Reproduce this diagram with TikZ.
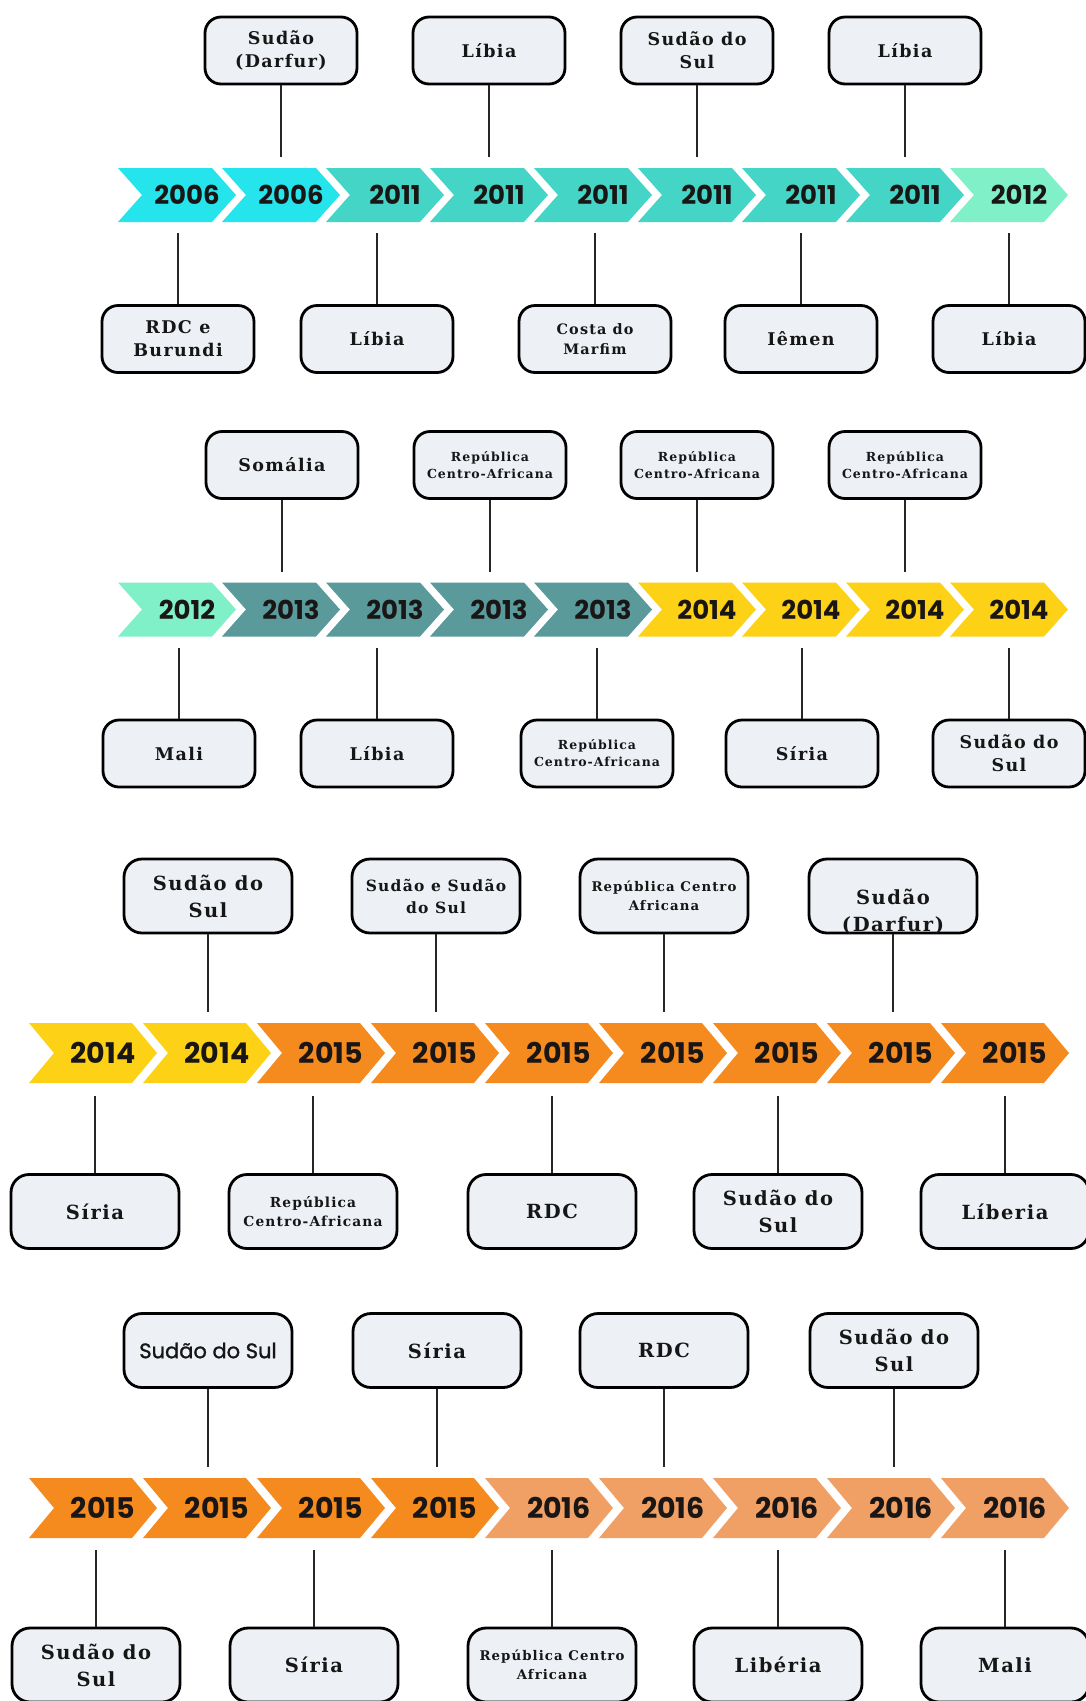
\documentclass[tikz,border=0pt]{standalone}
\usepackage{fontspec}
\newfontfamily\yearfont{Poppins}
\newfontfamily\boxfont{DejaVu Serif}[LetterSpace=8]
\newfontfamily\sansbox{Poppins}[FakeBold=1.3]
\definecolor{cyanA}{HTML}{25E4EC}
\definecolor{turq}{HTML}{45D5C6}
\definecolor{mint}{HTML}{80F0C8}
\definecolor{tealg}{HTML}{5A9A9B}
\definecolor{yell}{HTML}{FCD116}
\definecolor{orng}{HTML}{F58B1F}
\definecolor{lorng}{HTML}{F0A064}
\definecolor{boxfill}{HTML}{EDF0F5}
\definecolor{txt}{HTML}{161616}
\definecolor{yrtxt}{HTML}{1A1616}
\definecolor{linec}{HTML}{262626}
\tikzset{
  box/.style={draw=black, line width=2.8pt, rounded corners=16pt, fill=boxfill,
    minimum width=152pt, minimum height=67pt, align=center, text=txt, inner sep=2pt,
    font=\boxfont\bfseries\fontsize{17.5}{23}\selectfont},
  smalltxt/.style={font=\boxfont\bfseries\fontsize{12.5}{17}\selectfont},
  bigbox/.style={box, minimum width=168pt, minimum height=74pt, rounded corners=18pt,
    font=\boxfont\bfseries\fontsize{19.5}{27}\selectfont},
  yr/.style={font=\yearfont\bfseries\fontsize{26}{26}\selectfont, text=yrtxt, inner sep=0pt},
  yrbig/.style={yr, font=\yearfont\bfseries\fontsize{28.5}{28.5}\selectfont},
  conn/.style={draw=linec, line width=2pt},
}
% left x, center y, width (left to tip), half height, depth, colour
\newcommand{\chevshape}[6]{%
  \fill[#6] (#1,#2-#4) -- (#1+#3-#5,#2-#4) -- (#1+#3,#2) -- (#1+#3-#5,#2+#4)
    -- (#1,#2+#4) -- (#1+#5,#2) -- cycle;}
\begin{document}
\begin{tikzpicture}[x=1pt,y=-1pt]
\useasboundingbox (0,0) rectangle (1086,1701);
\fill[white] (0,0) rectangle (1086,1701);

% ---------------- Row 1 ----------------
\foreach \i/\yv/\col in {0/2006/cyanA,1/2006/cyanA,2/2011/turq,3/2011/turq,4/2011/turq,5/2011/turq,6/2011/turq,7/2011/turq,8/2012/mint}{
  \chevshape{118+104*\i}{195}{118}{27}{24}{\col}
  \node[yr] (ya\i) at (187+104*\i,195) {\yv};
}
\node[box] (t11) at (281,50.5) {Sudão\\(Darfur)};
\node[box] (t12) at (489,50.5) {Líbia};
\node[box] (t13) at (697,50.5) {Sudão do\\Sul};
\node[box] (t14) at (905,50.5) {Líbia};
\node[box] (b11) at (178,339) {RDC e\\Burundi};
\node[box] (b12) at (377,339) {Líbia};
\node[box, font=\boxfont\bfseries\fontsize{14.4}{20}\selectfont] (b13) at (595,339) {Costa do\\Marfim};
\node[box] (b14) at (801,339) {Iêmen};
\node[box] (b15) at (1009,339) {Líbia};
\foreach \n/\x in {t11/281,t12/489,t13/697,t14/905}{
  \coordinate (e\n) at (\x,157); \draw[conn] (\n.south) -- (e\n);}
\foreach \n/\x in {b11/178,b12/377,b13/595,b14/801,b15/1009}{
  \coordinate (e\n) at (\x,233); \draw[conn] (e\n) -- (\n.north);}

% ---------------- Row 2 ----------------
\foreach \i/\yv/\col in {0/2012/mint,1/2013/tealg,2/2013/tealg,3/2013/tealg,4/2013/tealg,5/2014/yell,6/2014/yell,7/2014/yell,8/2014/yell}{
  \chevshape{118+104*\i}{609.5}{118}{27}{24}{\col}
  \node[yr] (yb\i) at (187+104*\i,609.5) {\yv};
}
\node[box] (t21) at (282,465) {Somália};
\node[box, smalltxt] (t22) at (490,465) {República\\Centro-Africana};
\node[box, smalltxt] (t23) at (697,465) {República\\Centro-Africana};
\node[box, smalltxt] (t24) at (905,465) {República\\Centro-Africana};
\node[box] (b21) at (179,753.5) {Mali};
\node[box] (b22) at (377,753.5) {Líbia};
\node[box, smalltxt] (b23) at (597,753.5) {República\\Centro-Africana};
\node[box] (b24) at (802,753.5) {Síria};
\node[box] (b25) at (1009,753.5) {Sudão do\\Sul};
\foreach \n/\x in {t21/282,t22/490,t23/697,t24/905}{
  \coordinate (e\n) at (\x,571.5); \draw[conn] (\n.south) -- (e\n);}
\foreach \n/\x in {b21/179,b22/377,b23/597,b24/802,b25/1009}{
  \coordinate (e\n) at (\x,647.5); \draw[conn] (e\n) -- (\n.north);}

% ---------------- Row 3 ----------------
\foreach \i/\yv/\col in {0/2014/yell,1/2014/yell,2/2015/orng,3/2015/orng,4/2015/orng,5/2015/orng,6/2015/orng,7/2015/orng,8/2015/orng}{
  \chevshape{29+114*\i}{1053}{128}{30}{25}{\col}
  \node[yrbig] (yc\i) at (103+114*\i,1053) {\yv};
}
\node[bigbox] (t31) at (208,896) {Sudão do\\Sul};
\node[bigbox, font=\boxfont\bfseries\fontsize{15.5}{22}\selectfont] (t32) at (436,896) {Sudão e Sudão\\do Sul};
\node[bigbox, font=\boxfont\bfseries\fontsize{13.3}{19}\selectfont] (t33) at (664,896) {República Centro\\Africana};
\node[bigbox] (t34) at (893,896) {};
\node[align=center, text=txt, inner sep=0pt, font=\boxfont\bfseries\fontsize{19.5}{27}\selectfont] (t34txt) at (893,912) {Sudão\\(Darfur)};
\node[bigbox] (b31) at (95,1211.5) {Síria};
\node[bigbox, font=\boxfont\bfseries\fontsize{13.8}{19}\selectfont] (b32) at (313,1211.5) {República\\Centro-Africana};
\node[bigbox] (b33) at (552,1211.5) {RDC};
\node[bigbox] (b34) at (778,1211.5) {Sudão do\\Sul};
\node[bigbox] (b35) at (1005,1211.5) {Líberia};
\foreach \n/\x in {t31/208,t32/436,t33/664,t34/893}{
  \coordinate (e\n) at (\x,1012); \draw[conn] (\n.south) -- (e\n);}
\foreach \n/\x in {b31/95,b32/313,b33/552,b34/778,b35/1005}{
  \coordinate (e\n) at (\x,1096); \draw[conn] (e\n) -- (\n.north);}

% ---------------- Row 4 ----------------
\foreach \i/\yv/\col in {0/2015/orng,1/2015/orng,2/2015/orng,3/2015/orng,4/2016/lorng,5/2016/lorng,6/2016/lorng,7/2016/lorng,8/2016/lorng}{
  \chevshape{29+114*\i}{1508}{128}{30}{25}{\col}
  \node[yrbig] (yd\i) at (103+114*\i,1508) {\yv};
}
\node[bigbox, font=\sansbox\fontsize{21}{26}\selectfont] (t41) at (208,1350.5) {Sudão do Sul};
\node[bigbox] (t42) at (437,1350.5) {Síria};
\node[bigbox] (t43) at (664,1350.5) {RDC};
\node[bigbox] (t44) at (894,1350.5) {Sudão do\\Sul};
\node[bigbox] (b41) at (96,1665) {Sudão do\\Sul};
\node[bigbox] (b42) at (314,1665) {Síria};
\node[bigbox, font=\boxfont\bfseries\fontsize{13.3}{19}\selectfont] (b43) at (552,1665) {República Centro\\Africana};
\node[bigbox] (b44) at (778,1665) {Libéria};
\node[bigbox] (b45) at (1005,1665) {Mali};
\foreach \n/\x in {t41/208,t42/437,t43/664,t44/894}{
  \coordinate (e\n) at (\x,1467); \draw[conn] (\n.south) -- (e\n);}
\foreach \n/\x in {b41/96,b42/314,b43/552,b44/778,b45/1005}{
  \coordinate (e\n) at (\x,1550); \draw[conn] (e\n) -- (\n.north);}
\end{tikzpicture}
\end{document}
